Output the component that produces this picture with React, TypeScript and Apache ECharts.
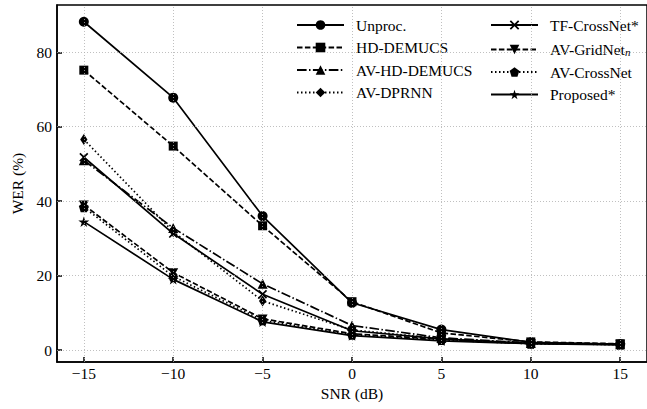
import React, { useEffect, useRef } from "react";
import * as echarts from "echarts";

const snr = [-15, -10, -5, 0, 5, 10, 15];
const unproc = [88.2, 67.8, 36.0, 12.7, 5.5, 2.1, 1.6];
const hdDemucs = [75.2, 54.8, 33.4, 13.0, 4.6, 2.2, 1.7];
const avHdDemucs = [51.0, 32.8, 17.8, 6.6, 3.3, 1.9, 1.6];
const avDprnn = [56.6, 31.8, 13.2, 5.4, 3.1, 1.8, 1.5];
const tfCrossNet = [51.8, 31.3, 15.0, 5.2, 3.0, 1.8, 1.5];
const avGridNet = [39.0, 20.8, 8.4, 4.4, 2.9, 1.8, 1.6];
const avCrossNet = [38.4, 19.8, 8.0, 4.1, 2.7, 1.7, 1.5];
const proposed = [34.5, 19.0, 7.6, 3.9, 2.5, 1.7, 1.4];

const xTicks = [-15, -10, -5, 0, 5, 10, 15];
const yTicks = [0, 20, 40, 60, 80];

const SYM_X =
  "path://M0,1.3 L1.3,0 L5,3.7 L8.7,0 L10,1.3 L6.3,5 L10,8.7 L8.7,10 L5,6.3 L1.3,10 L0,8.7 L3.7,5 Z";
const SYM_DOWN = "path://M0,0 L10,0 L5,8.66 Z";
const SYM_PENT = "path://M5,0 L10,3.8 L8.1,10 L1.9,10 L0,3.8 Z";
const SYM_STAR =
  "path://M5,0 L6.12,3.46 L9.76,3.45 L6.81,5.59 L7.94,9.05 L5,6.9 L2.06,9.05 L3.19,5.59 L0.24,3.45 L3.88,3.46 Z";
const SYM_DIAM = "path://M3.3,0 L6.6,5 L3.3,10 L0,5 Z";

const FONT = "Liberation Serif";
const FS = 15.5;

export default function App() {
  const ref = useRef<HTMLDivElement>(null);
  useEffect(() => {
    const chart = echarts.init(ref.current!, null, { renderer: "svg" });
    const mk = (
      name: string,
      vals: number[],
      symbol: string,
      size: number | number[],
      dash: any
    ) => ({
      name,
      type: "line",
      data: snr.map((x, i) => [x, vals[i]]),
      symbol,
      symbolSize: size,
      symbolKeepAspect: true,
      showSymbol: true,
      color: "#000",
      itemStyle: { color: "#000" },
      lineStyle: { color: "#000", width: 1.7, type: dash, cap: "butt" },
      emphasis: { disabled: true },
      z: 3,
    });
    const series: any[] = [
      mk("Unproc.", unproc, "circle", 10, "solid"),
      mk("HD-DEMUCS", hdDemucs, "rect", 9, [5.5, 2.4]),
      mk("AV-HD-DEMUCS", avHdDemucs, "triangle", 10, [9.6, 2.4, 1.5, 2.4]),
      mk("AV-DPRNN", avDprnn, SYM_DIAM, 11, [1.5, 2.5]),
      mk("TF-CrossNet*", tfCrossNet, SYM_X, 9, "solid"),
      mk("AV-GridNet_n", avGridNet, SYM_DOWN, 10, [5.5, 2.4]),
      mk("AV-CrossNet", avCrossNet, SYM_PENT, 10, [1.5, 2.5]),
      mk("Proposed*", proposed, SYM_STAR, 11, "solid"),
    ];
    const names = series.map((s) => s.name);
    const gridSeries = {
      name: "__grid",
      type: "line",
      data: [],
      silent: true,
      z: 1,
      markLine: {
        silent: true,
        symbol: ["none", "none"],
        label: { show: false },
        emphasis: { disabled: true },
        lineStyle: { color: "#b0b0b0", width: 0.8, type: [1, 2] },
        data: [
          ...xTicks.map((v) => ({ xAxis: v })),
          ...yTicks.map((v) => ({ yAxis: v })),
        ],
      },
    };
    const legendBase = {
      orient: "vertical",
      top: 17,
      padding: 0,
      itemWidth: 47,
      itemHeight: 12,
      itemGap: 6.5,
      selectedMode: false,
      textStyle: {
        fontFamily: FONT,
        fontSize: FS,
        lineHeight: 16,
        color: "#000",
        padding: [0, 0, 0, 7],
        rich: {
          sub: {
            fontFamily: FONT,
            fontSize: 11,
            fontStyle: "italic",
            color: "#000",
            verticalAlign: "bottom",
            lineHeight: 16,
            padding: [7, 0, 0, 0],
          },
        },
      },
      formatter: (n: string) => (n === "AV-GridNet_n" ? "AV-GridNet{sub|n}" : n),
    };
    chart.setOption({
      animation: false,
      backgroundColor: "#fff",
      grid: {
        left: 57,
        top: 5,
        right: -7,
        bottom: 47,
        show: true,
        borderColor: "#000",
        borderWidth: 1.5,
        containLabel: false,
      },
      legend: [
        { ...legendBase, left: 296, data: names.slice(0, 4) },
        { ...legendBase, left: 490, data: names.slice(4) },
      ],
      xAxis: {
        type: "value",
        min: -16.5,
        max: 16.5,
        name: "SNR (dB)",
        nameLocation: "middle",
        nameGap: 20,
        nameTextStyle: { fontFamily: FONT, fontSize: FS, color: "#000" },
        axisLine: { show: true, onZero: false, lineStyle: { color: "#000", width: 1.5 } },
        axisTick: {
          show: true,
          inside: true,
          length: 5,
          customValues: xTicks,
          lineStyle: { color: "#000", width: 1.5 },
        },
        axisLabel: {
          customValues: xTicks,
          fontFamily: FONT,
          fontSize: FS,
          color: "#000",
          margin: 3,
          formatter: (v: number) => String(v).replace("-", "\u2212"),
        },
        splitLine: { show: false },
      },
      yAxis: {
        type: "value",
        min: -3.2,
        max: 92.7,
        name: "WER (%)",
        nameLocation: "middle",
        nameGap: 23,
        nameTextStyle: { fontFamily: FONT, fontSize: FS, color: "#000" },
        axisLine: { show: true, onZero: false, lineStyle: { color: "#000", width: 1.5 } },
        axisTick: {
          show: true,
          inside: true,
          length: 5,
          customValues: yTicks,
          lineStyle: { color: "#000", width: 1.5 },
        },
        axisLabel: {
          customValues: yTicks,
          fontFamily: FONT,
          fontSize: FS,
          color: "#000",
          margin: 5,
        },
        splitLine: { show: false },
      },
      series: [gridSeries, ...series],
    });
    return () => chart.dispose();
  }, []);
  return (
    <div
      ref={ref}
      style={{ position: "fixed", left: 0, top: 0, width: 647, height: 409 }}
    />
  );
}
